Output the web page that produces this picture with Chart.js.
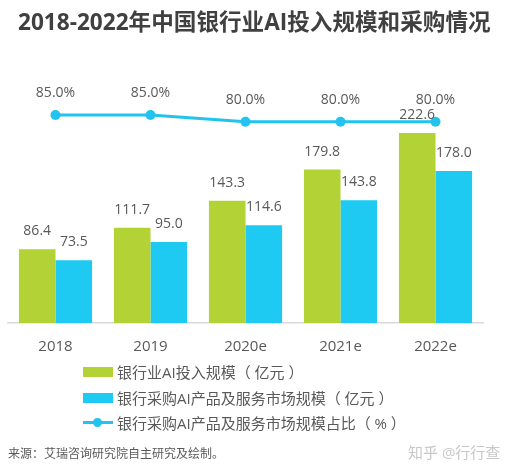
<!DOCTYPE html>
<html>
<head>
<meta charset="utf-8">
<script src="https://cdn.jsdelivr.net/npm/chart.js@4"></script>
<style>
    html, body { margin: 0; padding: 0; background: #fff; }
    #wrap { position: relative; width: 517px; height: 474px; overflow: hidden;
        font-family: "Open Sans", "Noto Sans CJK SC", sans-serif; }
    #chart { position: absolute; left: 0; top: 0; }
    .title { position: absolute; left: 18px; top: 7px; font-size: 22.6px; font-weight: bold;
        color: #404040; white-space: nowrap; line-height: 30px; }
    .legend { position: absolute; left: 83px; top: 360px; }
    .legend-item { position: absolute; left: 0; height: 24px; width: 420px; white-space: nowrap;
        font-size: 15px; color: #595959; line-height: 24px; }
    .legend-item .sw { position: absolute; left: 0; top: 7px; width: 30px; height: 10px; }
    .legend-item .ln { position: absolute; left: 0; top: 10px; width: 30px; height: 3px; }
    .legend-item .dot { position: absolute; left: 10px; top: 7px; width: 9px; height: 9px; border-radius: 50%; }
    .legend-item span.txt { position: absolute; left: 34px; top: 0; }
    .source { position: absolute; left: 8px; top: 444px; font-size: 12px; color: #595959; white-space: nowrap; }
    .mark { position: absolute; left: 408px; top: 441px; font-size: 15px; color: #c8c8c8; white-space: nowrap; }
</style>
</head>
<body>
<div id="wrap">
    <canvas id="chart" width="517" height="474"></canvas>
    <div class="title">2018-2022年中国银行业AI投入规模和采购情况</div>
    <div class="legend" id="legend"></div>
    <div class="source">来源：艾瑞咨询研究院自主研究及绘制。</div>
    <div class="mark">知乎 @行行查</div>
</div>
<script>
// ===== DATA =====
var years = ['2018', '2019', '2020e', '2021e', '2022e'];
var aiInvest = [86.4, 111.7, 143.3, 179.8, 222.6];
var aiPurchase = [73.5, 95.0, 114.6, 143.8, 178.0];
var purchaseShare = [85.0, 85.0, 80.0, 80.0, 80.0];
var seriesNames = [
    '银行业AI投入规模（ 亿元 ）',
    '银行采购AI产品及服务市场规模（ 亿元 ）',
    '银行采购AI产品及服务市场规模占比（ % ）'
];

var GREEN = '#b2d235';
var BLUE = '#1ec9f2';
var LINE = '#22c3ee';
var LABEL_FONT = '14px "Open Sans", "Noto Sans CJK SC", sans-serif';

// Draws value labels above bars and line points.
var valueLabels = {
    id: 'valueLabels',
    afterDatasetsDraw: function (chart) {
        var ctx = chart.ctx;
        ctx.save();
        ctx.font = LABEL_FONT;
        ctx.fillStyle = '#595959';
        ctx.textAlign = 'center';
        ctx.textBaseline = 'middle';
        chart.data.datasets.forEach(function (ds, i) {
            var meta = chart.getDatasetMeta(i);
            meta.data.forEach(function (el, j) {
                var v = ds.data[j];
                if (ds.type === 'line') {
                    ctx.fillText(v.toFixed(1) + '%', el.x, el.y - 22);
                } else {
                    ctx.fillText(v.toFixed(1), el.x, el.y - 18);
                }
            });
        });
        ctx.restore();
    }
};

var ctx = document.getElementById('chart');
new Chart(ctx, {
    data: {
        labels: years,
        datasets: [
            {
                type: 'line',
                label: seriesNames[2],
                data: purchaseShare,
                yAxisID: 'y2',
                borderColor: LINE,
                backgroundColor: LINE,
                borderWidth: 3,
                pointRadius: 5,
                pointBackgroundColor: LINE,
                pointBorderWidth: 0,
                tension: 0,
                order: 0
            },
            {
                type: 'bar',
                label: seriesNames[0],
                data: aiInvest,
                backgroundColor: GREEN,
                yAxisID: 'y',
                categoryPercentage: 0.77,
                barPercentage: 1.0,
                order: 1
            },
            {
                type: 'bar',
                label: seriesNames[1],
                data: aiPurchase,
                backgroundColor: BLUE,
                yAxisID: 'y',
                categoryPercentage: 0.77,
                barPercentage: 1.0,
                order: 1
            }
        ]
    },
    options: {
        responsive: false,
        animation: false,
        layout: {
            padding: { left: 8, right: 34, top: 67, bottom: 121 }
        },
        scales: {
            x: {
                grid: { display: true, drawOnChartArea: false, drawTicks: false },
                border: { display: true, color: '#d9d9d9', width: 1.5 },
                ticks: {
                    color: '#595959',
                    padding: 15,
                    font: { size: 15, family: '"Open Sans", "Noto Sans CJK SC", sans-serif' }
                },
                afterFit: function (scale) {
                    scale.height = 30;
                }
            },
            y: { display: false, min: 0, max: 300 },
            y2: { display: false, min: -71, max: 121 }
        },
        plugins: {
            legend: { display: false },
            tooltip: { enabled: false }
        }
    },
    plugins: [valueLabels]
});

// ===== LEGEND (HTML) =====
var legend = document.getElementById('legend');
var legendRows = [
    { name: seriesNames[0], color: GREEN, kind: 'box' },
    { name: seriesNames[1], color: BLUE, kind: 'box' },
    { name: seriesNames[2], color: LINE, kind: 'line' }
];
legendRows.forEach(function (row, i) {
    var item = document.createElement('div');
    item.className = 'legend-item';
    item.style.top = (i * 25.5) + 'px';
    if (row.kind === 'box') {
        item.innerHTML = '<div class="sw" style="background:' + row.color + '"></div>';
    } else {
        item.innerHTML = '<div class="ln" style="background:' + row.color + '"></div>' +
            '<div class="dot" style="background:' + row.color + '"></div>';
    }
    var txt = document.createElement('span');
    txt.className = 'txt';
    txt.textContent = row.name;
    item.appendChild(txt);
    legend.appendChild(item);
});
</script>
</body>
</html>
